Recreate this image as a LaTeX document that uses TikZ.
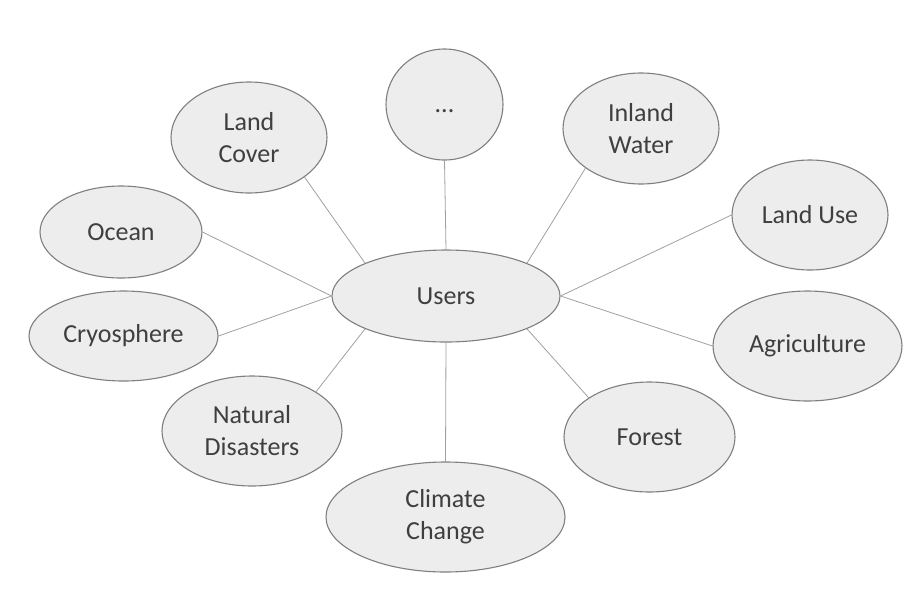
\documentclass[tikz,border=0pt]{standalone}
\usepackage{fontspec}
\setmainfont{Carlito}
\usetikzlibrary{shapes.geometric}
\definecolor{bubblefill}{HTML}{EDEDED}
\definecolor{bubbleline}{HTML}{7F7F7F}
\definecolor{linkline}{HTML}{A0A0A0}
\definecolor{txt}{HTML}{3F3F3F}
\tikzset{
  x=1pt, y=-1pt,
  bubble/.style={ellipse, draw=bubbleline, fill=bubblefill, line width=1.1pt,
    inner sep=0pt, align=center, text=txt,
    font=\fontsize{26}{32}\selectfont},
  link/.style={draw=linkline, line width=0.8pt},
}
\begin{document}
\begin{tikzpicture}
\useasboundingbox (0,0) rectangle (916,590);
\node[bubble, minimum width=228pt, minimum height=92pt] (users) at (446,296) {Users};
\node[bubble, minimum width=117pt, minimum height=111pt] (dots) at (444.5,104.5) {\vphantom{U}...};
\node[bubble, minimum width=156pt, minimum height=111pt] (landcover) at (249,137.5) {Land\\Cover};
\node[bubble, minimum width=156pt, minimum height=111pt] (inland) at (641,128.5) {Inland\\Water};
\node[bubble, minimum width=156pt, minimum height=110pt] (landuse) at (810,215) {Land Use};
\node[bubble, minimum width=162pt, minimum height=92pt] (ocean) at (121,232) {Ocean};
\node[bubble, minimum width=189pt, minimum height=90pt] (cryo) at (123.5,336) {Cryosphere};
\node[bubble, minimum width=189pt, minimum height=110pt] (agri) at (807.5,346) {Agriculture};
\node[bubble, minimum width=180pt, minimum height=110pt] (natural) at (252,431) {Natural\\Disasters};
\node[bubble, minimum width=171pt, minimum height=110pt] (forest) at (649.5,437) {Forest};
\node[bubble, minimum width=239pt, minimum height=110pt] (climate) at (445.5,517) {Climate\\Change};
\draw[link] (dots.south) -- (users.north);
\draw[link] (landcover.south east) -- (users.north west);
\draw[link] (inland.south west) -- (users.north east);
\draw[link] (users.east) -- (landuse.west);
\draw[link] (ocean.east) -- (users.west);
\draw[link] (cryo.east) -- (users.west);
\draw[link] (users.east) -- (agri.west);
\draw[link] (natural.north east) -- (users.south west);
\draw[link] (users.south east) -- (forest.north west);
\draw[link] (users.south) -- (climate.north);
\end{tikzpicture}
\end{document}
